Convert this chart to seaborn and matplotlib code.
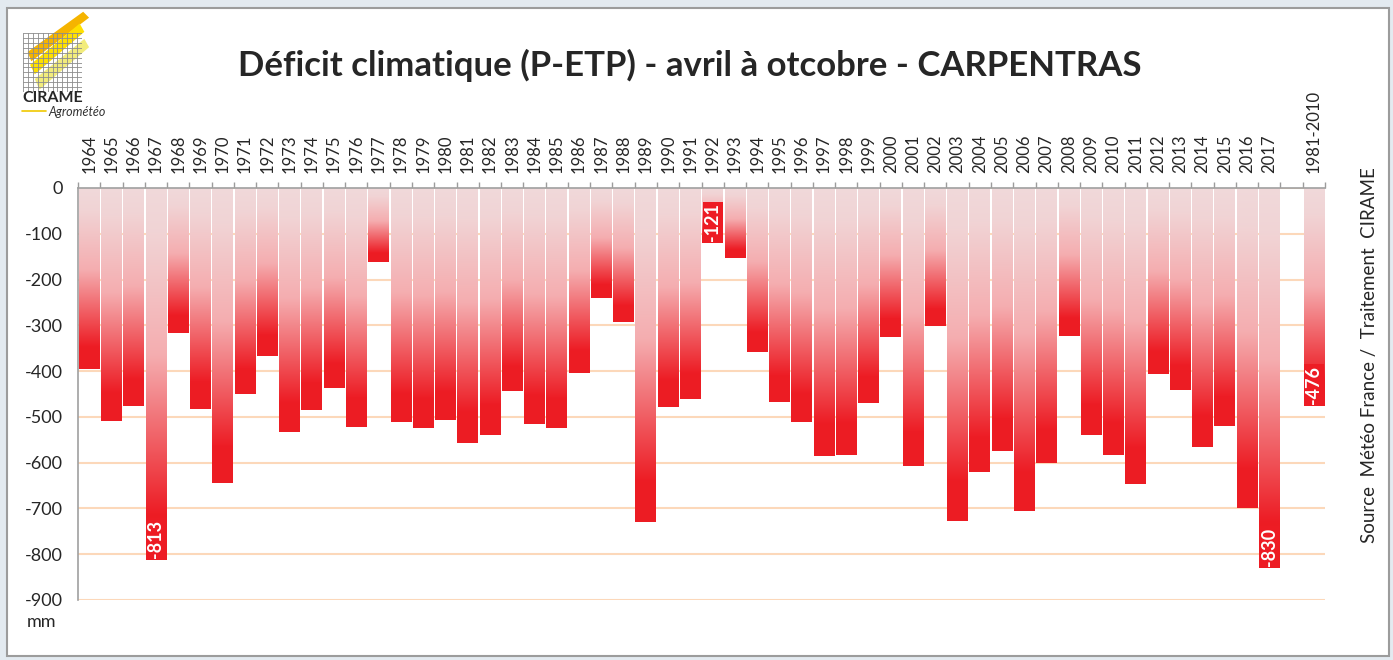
import numpy as np
import matplotlib
matplotlib.use('Agg')
import matplotlib.pyplot as plt
from matplotlib.colors import LinearSegmentedColormap
from matplotlib.patches import Rectangle, Polygon
import seaborn as sb
import pandas as pd

# P-ETP deficit, April to October, Carpentras (mm)
years = ['1964', '1965', '1966', '1967', '1968', '1969', '1970', '1971', '1972', '1973',
         '1974', '1975', '1976', '1977', '1978', '1979', '1980', '1981', '1982', '1983',
         '1984', '1985', '1986', '1987', '1988', '1989', '1990', '1991', '1992', '1993',
         '1994', '1995', '1996', '1997', '1998', '1999', '2000', '2001', '2002', '2003',
         '2004', '2005', '2006', '2007', '2008', '2009', '2010', '2011', '2012', '2013',
         '2014', '2015', '2016', '2017']
deficit = [-395, -510, -477, -813, -316, -483, -644, -451, -368, -532,
           -486, -437, -521, -162, -512, -525, -507, -558, -540, -443,
           -516, -524, -405, -240, -293, -729, -478, -462, -121, -154,
           -358, -468, -512, -585, -583, -470, -325, -607, -301, -727,
           -621, -574, -706, -601, -323, -540, -583, -647, -407, -441,
           -566, -519, -700, -830]
normal_label = '1981-2010'
normal_value = -476
labelled = ['1967', '1992', '2017', '1981-2010']
yticks = [0, -100, -200, -300, -400, -500, -600, -700, -800, -900]

title = 'Déficit climatique (P-ETP) - avril à otcobre - CARPENTRAS'
source = 'Source  Météo France /  Traitement  CIRAME'

df = pd.DataFrame({'periode': years + [normal_label], 'deficit': deficit + [normal_value]})
order = years + [' '] + [normal_label]

sb.set_style('white')
plt.rcParams['font.family'] = ['Lato', 'DejaVu Sans']

W, H = 1393, 660
fig = plt.figure(figsize=(W / 100, H / 100), dpi=100)
fig.patch.set_facecolor('#E3EAF0')
fig.patches.append(Rectangle((7 / W, 4 / H), 1382 / W, 648 / H, transform=fig.transFigure,
                             facecolor='white', edgecolor='#9C9C9C', lw=1.5, zorder=-10))

ax = fig.add_axes([78 / W, 60 / H, 1247 / W, 412 / H])
ax.set_facecolor('none')

sb.barplot(data=df, x='periode', y='deficit', order=order, width=0.93, color='#ED1C24',
           saturation=1, ax=ax, zorder=2)

# per-bar vertical gradient, light pink at 0 down to red at the bar end
grad_cmap = LinearSegmentedColormap.from_list('deficit', [
    (0.0, (0.945, 0.850, 0.855)),
    (0.12, (0.945, 0.830, 0.835)),
    (0.45, (0.960, 0.680, 0.690)),
    (0.88, (0.929, 0.110, 0.141)),
    (1.0, (0.929, 0.110, 0.141))])
grad = np.linspace(0, 1, 256).reshape(-1, 1)
for p in list(ax.patches):
    x0, w, h = p.get_x(), p.get_width(), p.get_height()
    ax.imshow(grad, extent=(x0, x0 + w, h, 0), origin='upper', aspect='auto',
              cmap=grad_cmap, zorder=2, interpolation='bilinear')
    p.set_facecolor('none')
    p.set_edgecolor('none')

values = df.set_index('periode')['deficit']
for lab in labelled:
    i = order.index(lab)
    v = values[lab]
    ax.text(i, v + 5, str(v), rotation=90, ha='center', va='bottom', color='white',
            fontsize=13, fontweight='bold', zorder=5,
            bbox=dict(facecolor='#ED1C24', edgecolor='none', pad=1.0))

ax.set_xlim(-0.5, len(order) - 0.5)
ax.set_ylim(-900, 0)
ax.set_yticks(yticks)
ax.set_yticklabels([str(t) for t in yticks], fontsize=13)
ax.yaxis.grid(True, color='#FCD8BA', lw=1.5, zorder=0)
ax.xaxis.grid(False)
ax.set_axisbelow(True)

ax.xaxis.tick_top()
ax.set_xticks(range(len(order)))
ax.set_xticklabels(order, rotation=90, fontsize=12)
ax.set_xticks(np.arange(-0.5, len(order), 1), minor=True)
ax.tick_params(axis='x', which='major', length=0, pad=11)
ax.tick_params(axis='x', which='minor', length=4, color='#9C9C9C', width=1, direction='out', top=True, bottom=False)
ax.tick_params(axis='y', length=5, color='#9C9C9C', width=1, direction='out', pad=6)
ax.set_xlabel('')
ax.set_ylabel('')
for s in ['right', 'bottom']:
    ax.spines[s].set_visible(False)
for s in ['top', 'left']:
    ax.spines[s].set_color('#A0A0A0')
    ax.spines[s].set_linewidth(1.2)

fig.text(690 / W, 1 - 65 / H, title, ha='center', va='center', fontsize=25, fontweight='bold')
fig.text(1370 / W, 1 - 355 / H, source, rotation=90, ha='center', va='center', fontsize=13.5)
fig.text(42 / W, 1 - 622 / H, 'mm', ha='center', va='center', fontsize=13)

# logo
lax = fig.add_axes([23 / W, 1 - 92 / H, 59 / W, 59 / H])
lax.set_xlim(0, 1)
lax.set_ylim(0, 1)
lax.axis('off')
for g in np.linspace(0, 1, 13):
    lax.plot([g, g], [0, 1], color='#8C8C8C', lw=0.6)
    lax.plot([0, 1], [g, g], color='#8C8C8C', lw=0.6)
lax.add_patch(Polygon([(0.08, 0.68), (1.02, 1.36), (1.12, 1.26), (0.14, 0.52)], closed=True,
                      facecolor='#F5B400', edgecolor='none', clip_on=False))
lax.add_patch(Polygon([(0.12, 0.46), (0.96, 1.16), (1.04, 1.02), (0.20, 0.30)], closed=True,
                      facecolor='#FFE000', edgecolor='none', clip_on=False))
lax.add_patch(Polygon([(0.20, 0.22), (1.04, 0.90), (1.12, 0.76), (0.28, 0.04)], closed=True,
                      facecolor='#F2EC7C', edgecolor='none', clip_on=False))
fig.text(22 / W, 1 - 98 / H, 'CIRAME', ha='left', va='center', fontsize=11.5, fontweight='bold')
fig.text(48 / W, 1 - 112 / H, 'Agrométéo', ha='left', va='center', fontsize=9, style='italic', color='#333333')
fig.lines.append(plt.Line2D([22 / W, 46 / W], [1 - 111 / H, 1 - 111 / H], transform=fig.transFigure,
                            color='#F0C800', lw=1.2))

fig.savefig('out.png', dpi=100, facecolor=fig.get_facecolor())
